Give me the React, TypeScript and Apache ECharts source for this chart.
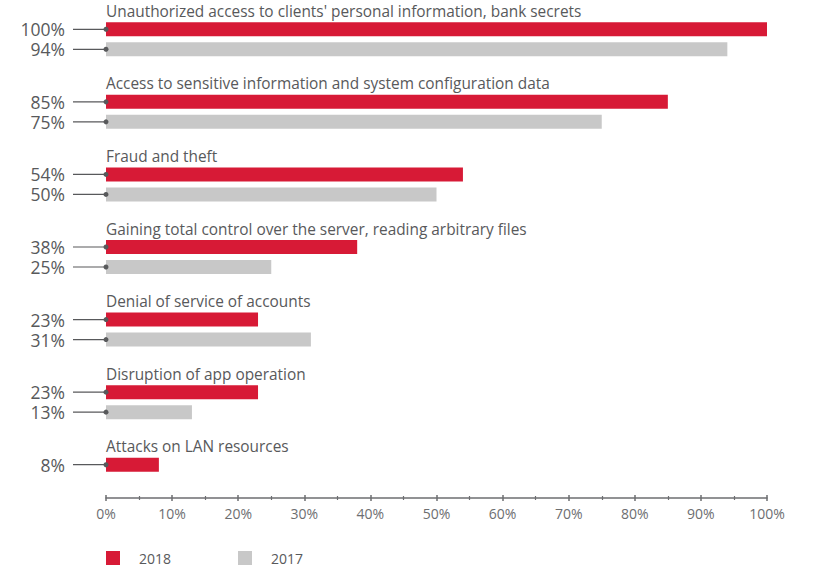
import React, { useEffect, useRef } from "react";
import * as echarts from "echarts";

const categories = [
  "Unauthorized access to clients' personal information, bank secrets",
  "Access to sensitive information and system configuration data",
  "Fraud and theft",
  "Gaining total control over the server, reading arbitrary files",
  "Denial of service of accounts",
  "Disruption of app operation",
  "Attacks on LAN resources",
];
const values2018: (number | null)[] = [100, 85, 54, 38, 23, 23, 8];
const values2017: (number | null)[] = [94, 75, 50, 25, 31, 13, null];
const seriesNames = ["2018", "2017"];
const xMin = 0;
const xMax = 100;
const xInterval = 10;

const FONT = "'Open Sans', 'Noto Sans', sans-serif";
const TEXT = "#58595b";
const RED = "#d71a36";
const GRAY = "#c8c8c8";

export default function App() {
  const ref = useRef<HTMLDivElement>(null);
  useEffect(() => {
    document.body.style.margin = "0";
    if (!ref.current) return;
    const chart = echarts.init(ref.current, null, { renderer: "svg" });

    const labelData: number[][] = [];
    categories.forEach((_, i) => {
      if (values2018[i] != null) labelData.push([values2018[i] as number, i, 0]);
      if (values2017[i] != null) labelData.push([values2017[i] as number, i, 1]);
    });
    const titleData = categories.map((_, i) => [0, i]);

    const axisCommon = {
      type: "value" as const,
      min: xMin,
      max: xMax,
      interval: xInterval,
      position: "bottom" as const,
      offset: -13,
      splitLine: { show: false },
    };

    chart.setOption({
      animation: false,
      textStyle: { fontFamily: FONT },
      grid: { left: 106, right: 50, top: 3, bottom: 67, containLabel: false },
      legend: {
        left: 106,
        top: 551,
        padding: 0,
        icon: "rect",
        itemWidth: 14,
        itemHeight: 14,
        itemGap: 67,
        data: seriesNames,
        textStyle: {
          color: TEXT,
          fontSize: 14,
          fontFamily: FONT,
          padding: [0, 0, 0, 14],
        },
      },
      xAxis: [
        {
          ...axisCommon,
          axisLine: { show: true, lineStyle: { color: "#6d6e71", width: 1.5 } },
          axisTick: { show: true, length: 3, lineStyle: { color: "#6d6e71", width: 1.5 } },
          minorTick: { show: true, splitNumber: 2, length: 2, lineStyle: { color: "#6d6e71", width: 1.2 } },
          axisLabel: { formatter: "{value}%", color: "#6d6e71", fontSize: 14, margin: 8, fontFamily: FONT },
        },
        {
          ...axisCommon,
          axisLine: { show: false },
          axisTick: { show: true, inside: true, length: 3, lineStyle: { color: "#6d6e71", width: 1.5 } },
          minorTick: { show: true, splitNumber: 2, length: 2, lineStyle: { color: "#6d6e71", width: 1.2 } },
          axisLabel: { show: false },
        },
      ],
      yAxis: {
        type: "category",
        inverse: true,
        data: categories,
        axisLine: { show: false },
        axisTick: { show: false },
        axisLabel: { show: false },
        splitLine: { show: false },
      },
      series: [
        {
          name: seriesNames[0],
          type: "bar",
          data: values2018,
          barWidth: 14,
          barGap: "42.86%",
          itemStyle: { color: RED },
        },
        {
          name: seriesNames[1],
          type: "bar",
          data: values2017,
          barWidth: 14,
          barGap: "42.86%",
          itemStyle: { color: GRAY },
        },
        {
          type: "custom",
          silent: true,
          clip: false,
          z: 5,
          data: labelData,
          encode: { x: 0, y: 1 },
          renderItem: (params: any, api: any) => {
            const cat = api.value(1);
            const s = api.value(2);
            const p = api.coord([0, cat]);
            const y = p[1] + (s === 0 ? -10 : 10);
            return {
              type: "group",
              children: [
                { type: "line", shape: { x1: p[0] - 33, y1: y, x2: p[0], y2: y }, style: { stroke: TEXT, lineWidth: 1.2 } },
                { type: "circle", shape: { cx: p[0], cy: y, r: 2.5 }, style: { fill: TEXT } },
                {
                  type: "text",
                  x: p[0] - 41,
                  y: y,
                  style: {
                    text: api.value(0) + "%",
                    align: "right",
                    verticalAlign: "middle",
                    fontSize: 17.5,
                    lineHeight: 17.5,
                    fill: TEXT,
                    fontFamily: FONT,
                  },
                },
              ],
            };
          },
        },
        {
          type: "custom",
          silent: true,
          clip: false,
          z: 5,
          data: titleData,
          encode: { x: 0, y: 1 },
          renderItem: (params: any, api: any) => {
            const i = api.value(1);
            const p = api.coord([0, i]);
            return {
              type: "text",
              x: p[0],
              y: p[1] - 28,
              style: {
                text: categories[i],
                align: "left",
                verticalAlign: "middle",
                fontSize: 15.4,
                fill: TEXT,
                fontFamily: FONT,
              },
            };
          },
        },
      ],
    });
    return () => chart.dispose();
  }, []);
  return <div ref={ref} style={{ width: 817, height: 578 }} />;
}
